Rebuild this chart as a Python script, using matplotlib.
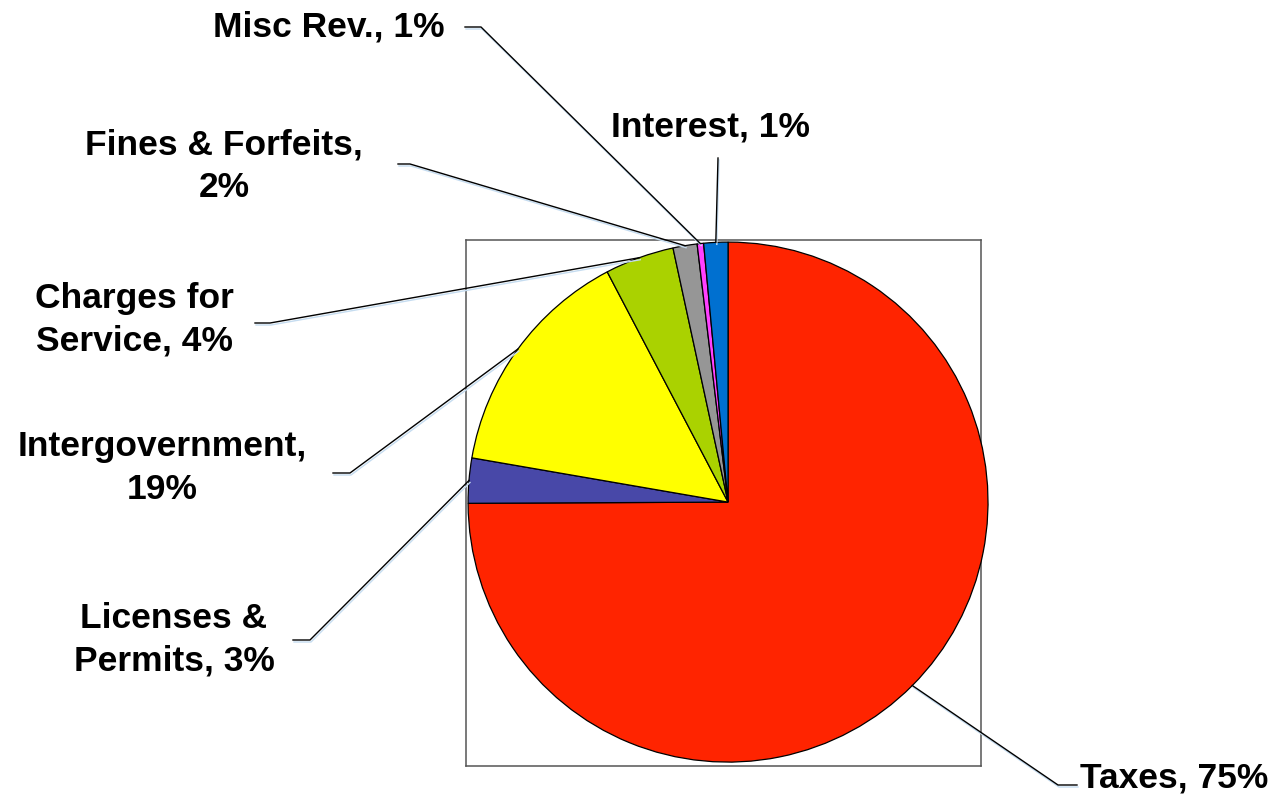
import numpy as np
import matplotlib
matplotlib.use("Agg")
import matplotlib.pyplot as plt

# revenue sources, clockwise from 12 o'clock
categories = ["Taxes", "Licenses & Permits", "Intergovernment", "Charges for Service",
              "Fines & Forfeits", "Misc Rev.", "Interest"]
shares = [75.0, 2.8, 14.6, 4.3, 1.5, 0.4, 1.5]
label_text = ["Taxes, 75%", "Licenses &\nPermits, 3%", "Intergovernment,\n19%",
              "Charges for\nService, 4%", "Fines & Forfeits,\n2%", "Misc Rev., 1%", "Interest, 1%"]
colors = ["#FF2400", "#4848A8", "#FFFF00", "#AAD200", "#969696", "#FF40FF", "#0070D0"]

W, H = 1274, 799
# label layout in pixels: text centre, elbow of leader, end of stub
label_pos = [(1174, 778), (174, 640), (162, 468), (134, 320), (224, 166), (329, 27), (710, 127)]
elbows = [(1058, 785), (310, 640), (350, 473), (270, 323), (410, 164), (481, 27), (718, 158)]
stub_ends = [(1077, 785), (293, 640), (333, 473), (255, 323), (398, 164), (465, 27), (718, 158)]

plt.rcParams["font.family"] = ["Liberation Sans", "DejaVu Sans"]
fig = plt.figure(figsize=(W / 100, H / 100), dpi=100)

ax = fig.add_axes([466 / W, (H - 766) / H, 515 / W, 526 / H])
wedges, _ = ax.pie(shares, colors=colors, startangle=90, counterclock=False,
                   wedgeprops=dict(edgecolor="black", linewidth=0.9))
for w in wedges:
    w.set_clip_on(False)
ax.set_aspect("auto")
ax.set_xlim(-1.008, 0.973)
ax.set_ylim(-1.015, 1.008)
ax.set_frame_on(True)
ax.set_xticks([])
ax.set_yticks([])
for sp in ax.spines.values():
    sp.set_color("#555555")
    sp.set_linewidth(1.1)
    sp.set_zorder(0.5)

ov = fig.add_axes([0, 0, 1, 1], zorder=3)
ov.set_xlim(0, W)
ov.set_ylim(H, 0)
ov.axis("off")

for w, txt, pos, elb, end in zip(wedges, label_text, label_pos, elbows, stub_ends):
    mid = np.deg2rad((w.theta1 + w.theta2) / 2)
    disp = ax.transData.transform((np.cos(mid), np.sin(mid)))
    anchor = ov.transData.inverted().transform(disp)
    xs = [anchor[0], elb[0], end[0]]
    ys = [anchor[1], elb[1], end[1]]
    ov.plot([x + 1 for x in xs], [y + 2 for y in ys], color="#C5DCF0", lw=1)
    ov.plot(xs, ys, color="black", lw=1)
    ov.text(pos[0], pos[1], txt, ha="center", va="center", multialignment="center",
            fontsize=25.5, fontweight="bold", linespacing=1.36)

fig.savefig("out.png", dpi=100)
